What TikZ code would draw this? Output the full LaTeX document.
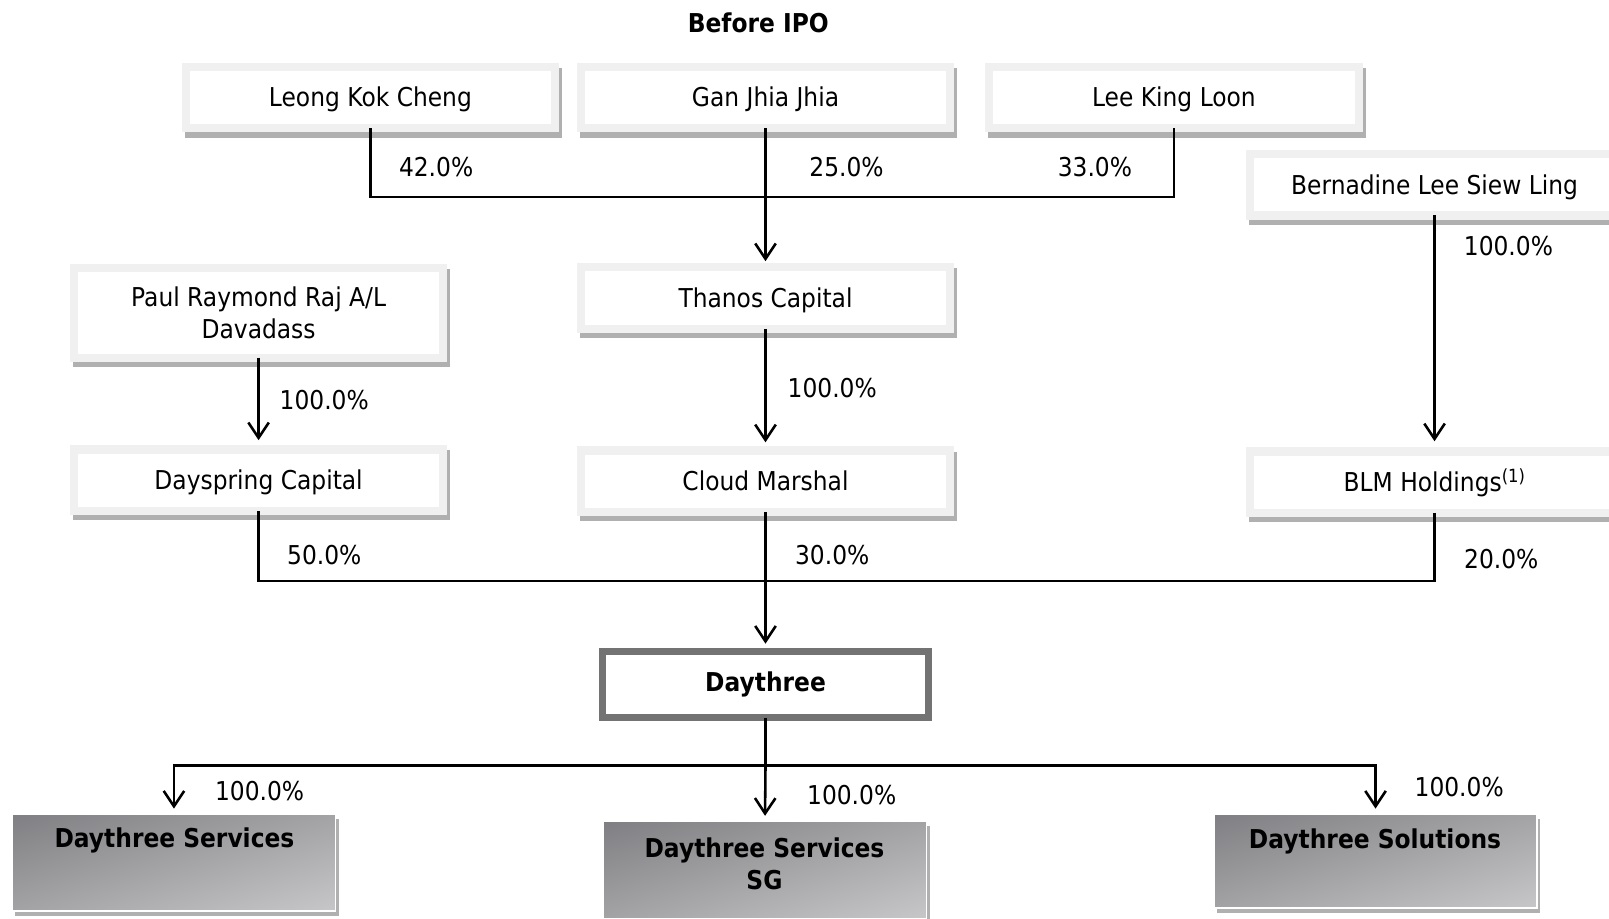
\documentclass[tikz,border=0pt]{standalone}
\usepackage{fontspec}
\setmainfont{DejaVu Sans}[FakeStretch=0.9]
\usetikzlibrary{arrows.meta}
\definecolor{framegray}{HTML}{F0F0F0}
\definecolor{shadowgray}{HTML}{B0B0B0}
\definecolor{bordergray}{HTML}{737373}
\definecolor{graddark}{HTML}{6A6A6E}
\definecolor{gradlight}{HTML}{DCDCDE}
\pgfdeclareverticalshading{gbshade}{100bp}{color(0bp)=(gradlight); color(100bp)=(graddark)}
\begin{document}
\begin{tikzpicture}[x=1pt,y=-1pt,
  every node/.style={font=\fontsize{25.3}{31}\selectfont, inner sep=0pt, outer sep=0pt},
  basebox/.style={draw=framegray, line width=8pt, fill=white, minimum width=360pt, minimum height=60pt, align=center,
     preaction={draw=shadowgray, fill=shadowgray, line width=8pt, transform canvas={shift={(3pt,-5pt)}}}},
  pbox/.style={basebox, text height=18.4pt, text depth=0pt},
  tallbox/.style={basebox, minimum height=87pt},
  mainbox/.style={draw=bordergray, line width=7.5pt, fill=white, minimum width=317.5pt, minimum height=64.5pt, font=\fontsize{25.3}{31}\selectfont\bfseries},
  gbox/.style={draw=white, line width=1.5pt, minimum width=315pt, minimum height=95pt,
     shade, shading=gbshade, shading angle=16.8,
     preaction={fill=shadowgray, transform canvas={shift={(3pt,-5pt)}}}},
  gtext/.style={font=\fontsize{25.3}{31}\selectfont\bfseries, align=center},
  link/.style={line width=2.5pt},
  arr/.style={link, -{Straight Barb[length=15pt,width=20pt]}}
]
\useasboundingbox (0,0) rectangle (1568,895);
\clip (0,0) rectangle (1568,895);

\node[font=\fontsize{25.3}{31}\selectfont\bfseries] (title) at (739,22) {Before IPO};

\node[pbox] (leong) at (361,95) {Leong Kok Cheng};
\node[pbox] (gan) at (746,95) {Gan Jhia Jhia};
\node[pbox] (lee) at (1144,95) {Lee King Loon};
\node[pbox] (bern) at (1398,180) {Bernadine Lee Siew Ling};
\node[tallbox] (paul) at (252,305) {Paul Raymond Raj A/L\\Davadass};
\node[pbox] (thanos) at (746,290.5) {Thanos Capital};
\node[pbox] (daysp) at (252,468) {Dayspring Capital};
\node[pbox] (cloud) at (746,469) {Cloud Marshal};
\node[pbox] (blm) at (1398,470) {BLM Holdings\textsuperscript{(1)}};
\node[mainbox] (day3) at (746,667) {Daythree};

\node[gbox] (ds) at (169.5,840.5) {};
\node[gbox] (dssg) at (745.5,847.5) {};
\node[gbox, minimum height=92pt] (dsol) at (1340.5,839) {};
\node[gtext] (dst) at (170,819) {Daythree Services};
\node[gtext] (dssgt) at (745,842) {Daythree Services\\SG};
\node[gtext] (dsolt) at (1340,820) {Daythree Solutions};

\coordinate (j1) at (746,192);
\coordinate (j2) at (746,566);
\coordinate (j3) at (746,746);

\draw[link] (leong.south) |- (j1) -| (lee.south);
\draw[arr, shorten >=6pt] (gan.south) -- (thanos.north);
\draw[arr, shorten >=9pt] (paul.south) -- (daysp.north);
\draw[arr, shorten >=8pt] (thanos.south) -- (cloud.north);
\draw[arr, shorten >=10pt] (bern.south) -- (blm.north);
\draw[link] (daysp.south) |- (j2) -| (blm.south);
\draw[arr, shorten >=7.5pt] (cloud.south) -- (day3.north);
\draw[link] (day3.south) -- (j3);
\draw[arr, shorten >=5pt] (j3) -- (dssg.north);
\draw[arr, shorten >=5pt] (j3) -| (ds.north);
\draw[arr, shorten >=5pt] (j3) -| (dsol.north);

\node (p1) at (425,163) {42.0\%};
\node (p2) at (825,163) {25.0\%};
\node (p3) at (1067,163) {33.0\%};
\node (p4) at (1470,240) {100.0\%};
\node (p5) at (316,390) {100.0\%};
\node (p6) at (811,378) {100.0\%};
\node (p7) at (316,541) {50.0\%};
\node (p8) at (811,541) {30.0\%};
\node (p9) at (1463,545) {20.0\%};
\node (p10) at (253,771) {100.0\%};
\node (p11) at (830,775) {100.0\%};
\node (p12) at (1422,767) {100.0\%};
\end{tikzpicture}
\end{document}
